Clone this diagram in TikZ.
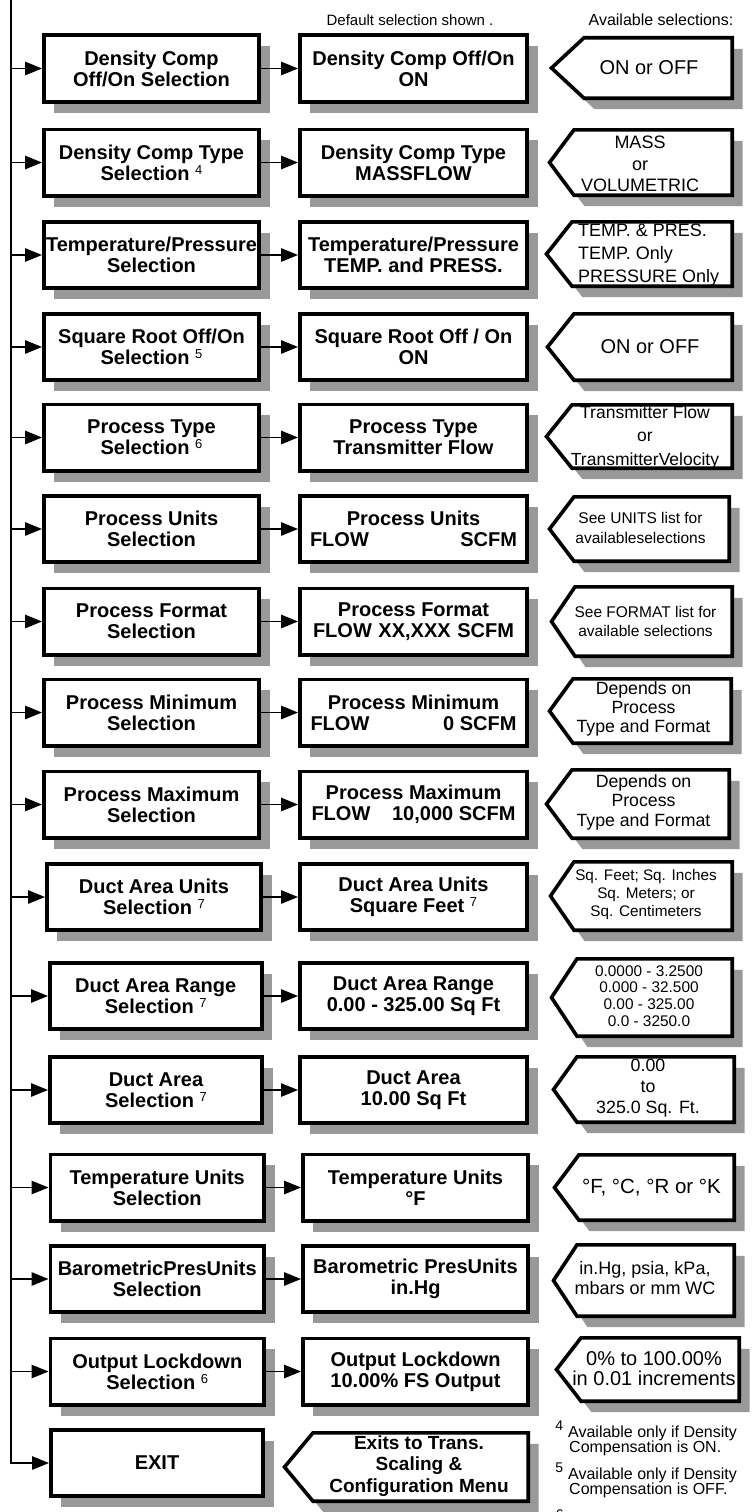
\documentclass[tikz,border=0pt]{standalone}
\usepackage{fontspec}
\setmainfont{Liberation Sans}
\usetikzlibrary{arrows.meta,shadows}
\definecolor{shd}{HTML}{999999}
\newcommand\fsz[2]{\fontsize{#1}{#2}\selectfont}
\newcommand\supn[1]{\raisebox{6pt}{\fsz{13}{13}\mdseries #1}}
\newcommand\fnmark[1]{\llap{\raisebox{7pt}{\fsz{14}{14}#1}\hspace{5pt}}}
% tip x, corner x, right x, top y, bottom y (outer edges)
\newcommand\pentagon[5]{%
  \filldraw[pent] (#1+2.5,{(#4+#5)/2}) -- (#2+1,#4+1.8) -- (#3-1.8,#4+1.8)
    -- (#3-1.8,#5-1.8) -- (#2+1,#5-1.8) -- cycle;}
\begin{document}
\begin{tikzpicture}[x=1pt,y=-1pt,
  shadowed/.style={drop shadow={shadow xshift=10.5pt,shadow yshift=-11pt,fill=shd,opacity=1}},
  selbox/.style={draw=black,line width=3.6pt,fill=white,inner sep=0pt,align=center,
    minimum height=66.4pt,font=\bfseries\fsz{20}{21},shadowed},
  pent/.style={draw=black,line width=3.6pt,fill=white,line join=miter,shadowed},
  avtext/.style={align=center,inner sep=0pt},
  conn/.style={line width=1.3pt,-{Triangle[length=17pt,width=13.5pt]}},
  hdr/.style={inner sep=0pt,anchor=base},
  fnline/.style={anchor=base west,inner sep=0pt,font=\fsz{16}{16}},
]
\useasboundingbox (0,0) rectangle (752,1512);

% headers
\node[hdr,font=\fsz{15}{15}] (h1) at (410,26) {Default selection shown .};
\node[hdr,font=\fsz{16}{16}] (h2) at (661,26) {Available selections:};

% column 1
\node[selbox,minimum width=215.4pt] (s1) at (151.5,68.5) {Density Comp\\Off/On Selection};
\node[selbox,minimum width=215.4pt] (s2) at (151.5,162.5) {Density Comp Type\\Selection \supn{4}};
\node[selbox,minimum width=215.4pt] (s3) at (151.5,255) {Temperature/Pressure\\Selection};
\node[selbox,minimum width=215.4pt] (s4) at (151.5,347) {Square Root Off/On\\Selection \supn{5}};
\node[selbox,minimum width=215.4pt] (s5) at (151.5,437.5) {Process Type\\Selection \supn{6}};
\node[selbox,minimum width=215.4pt] (s6) at (151.5,529) {Process Units\\Selection};
\node[selbox,minimum width=215.4pt] (s7) at (151.5,621.5) {Process Format\\Selection};
\node[selbox,minimum width=215.4pt] (s8) at (151.5,712.5) {Process Minimum\\Selection};
\node[selbox,minimum width=215.4pt] (s9) at (151.5,804.5) {Process Maximum\\Selection};
\node[selbox,minimum width=214.4pt] (s10) at (154,897) {Duct Area Units\\Selection \supn{7}};
\node[selbox,minimum width=211.9pt] (s11) at (155.75,996) {Duct Area Range\\Selection \supn{7}};
\node[selbox,minimum width=212.4pt] (s12) at (156,1090) {Duct Area\\Selection \supn{7}};
\node[selbox,minimum width=213.9pt] (s13) at (157.25,1187.5) {Temperature Units\\Selection};
\node[selbox,minimum width=213.9pt] (s14) at (157.25,1279) {BarometricPresUnits\\Selection};
\node[selbox,minimum width=213.9pt] (s15) at (157.25,1371.5) {Output Lockdown\\Selection \supn{6}};
\node[selbox,minimum width=212.4pt] (s16) at (157,1463) {EXIT};

% column 2
\node[selbox,minimum width=227.4pt] (d1) at (413.5,68.5) {Density Comp Off/On\\ON};
\node[selbox,minimum width=227.4pt] (d2) at (413.5,162.5) {Density Comp Type\\MASSFLOW};
\node[selbox,minimum width=227.4pt] (d3) at (413.5,255) {Temperature/Pressure\\TEMP. and PRESS.};
\node[selbox,minimum width=227.4pt] (d4) at (413.5,347) {Square Root Off / On\\ON};
\node[selbox,minimum width=227.4pt] (d5) at (413.5,437.5) {Process Type\\Transmitter Flow};
\node[selbox,minimum width=227.4pt] (d6) at (413.5,529) {Process Units\\\makebox[207pt]{FLOW\hfill SCFM}};
\node[selbox,minimum width=227.4pt] (d7) at (413.5,621.5) {Process Format\\\makebox[201pt]{FLOW\hfill XX,XXX\hfill SCFM}};
\node[selbox,minimum width=227.4pt] (d8) at (413.5,712.5) {Process Minimum\\\makebox[206pt]{FLOW\hfill 0 SCFM}};
\node[selbox,minimum width=227.4pt] (d9) at (413.5,804.5) {Process Maximum\\\makebox[204pt]{FLOW\hfill 10,000 SCFM}};
\node[selbox,minimum width=227.4pt] (d10) at (413.5,897) {Duct Area Units\\Square Feet \supn{7}};
\node[selbox,minimum width=227.4pt] (d11) at (413.5,996) {Duct Area Range\\0.00 - 325.00 Sq Ft};
\node[selbox,minimum width=227.4pt] (d12) at (413.5,1090) {Duct Area\\10.00 Sq Ft};
\node[selbox,minimum width=225.4pt] (d13) at (415.5,1187.5) {Temperature Units\\°F};
\node[selbox,minimum width=225.4pt] (d14) at (415.5,1279) {Barometric PresUnits\\in.Hg};
\node[selbox,minimum width=225.4pt] (d15) at (415.5,1371.5) {Output Lockdown\\10.00\% FS Output};
\pentagon{282}{312}{530}{1431}{1503}
\node[avtext,font=\bfseries\fsz{19}{21.5}] (d16) at (419,1466) {Exits to Trans.\\Scaling \&\\Configuration Menu};

% column 3
\pentagon{549}{583}{734}{36}{100}
\node[avtext,font=\fsz{20}{21}] (a1) at (649,68) {ON or OFF};
\pentagon{547}{573}{734}{128}{197}
\node[avtext,font=\fsz{18}{21.5}] (a2) at (640,164) {MASS\\or\\VOLUMETRIC};
\pentagon{544}{571}{734}{220}{288}
\node[avtext,align=left,anchor=west,font=\fsz{18}{23}] (a3) at (578,255) {TEMP. \& PRES.\\TEMP. Only\\PRESSURE Only};
\pentagon{545}{573}{734}{312}{382}
\node[avtext,font=\fsz{20}{21}] (a4) at (650,347) {ON or OFF};
\pentagon{544}{571}{734}{403}{470}
\node[avtext,font=\fsz{17.5}{23.5}] (a5) at (645,437) {Transmitter Flow\\or\\TransmitterVelocity};
\pentagon{547}{573}{731}{495}{563}
\node[avtext,font=\fsz{15.5}{20}] (a6) at (640.5,528) {See UNITS list for\\availableselections};
\pentagon{549}{574}{734}{585}{658}
\node[avtext,font=\fsz{15.5}{19}] (a7) at (645.5,621) {See FORMAT list for\\available selections};
\pentagon{547}{572}{733}{677}{745}
\node[avtext,font=\fsz{17.7}{19}] (a8) at (643.5,709) {Depends on\\Process\\Type and Format};
\pentagon{544}{571}{731}{768}{840}
\node[avtext,font=\fsz{17.7}{19.5}] (a9) at (643.5,802) {Depends on\\Process\\Type and Format};
\pentagon{548}{573}{734}{860}{932}
\node[avtext,font=\fsz{15.3}{18}] (a10) at (646,895) {Sq. Feet; Sq. Inches\\Sq. Meters; or\\Sq. Centimeters};
\pentagon{549}{576}{734}{957}{1038}
\node[avtext,font=\fsz{15.4}{16.8}] (a11) at (649,996) {0.0000 - 3.2500\\0.000 - 32.500\\0.00 - 325.00\\0.0 - 3250.0};
\pentagon{551}{576}{736}{1055}{1124}
\node[avtext,font=\fsz{17.8}{21}] (a12) at (648,1088) {0.00\\to\\325.0 Sq. Ft.};
\pentagon{552}{578}{736}{1153}{1222}
\node[avtext,font=\fsz{20.5}{21}] (a13) at (651.5,1187.5) {°F, °C, °R or °K};
\pentagon{551}{576}{736}{1243}{1318}
\node[avtext,font=\fsz{18}{20.5}] (a14) at (645,1278) {in.Hg, psia, kPa,\\mbars or mm WC};
\pentagon{554}{580}{741}{1336}{1403}
\node[avtext,font=\fsz{20}{20}] (a15) at (654,1369) {0\% to 100.00\%\\in 0.01 increments};

% connectors
\coordinate (spine) at (11,-2);
\draw[conn] (spine) |- (s16.west);
\foreach \i in {1,...,15} {\draw[conn] (spine |- s\i.west) -- (s\i.west);}
\foreach \i in {1,...,15} {\draw[conn] (s\i.east) -- (d\i.west);}

% footnotes
\node[fnline] (f4a) at (568,1437) {\fnmark{4}Available only if Density};
\node[fnline] (f4b) at (569,1452) {Compensation is ON.};
\node[fnline] (f5a) at (568,1479) {\fnmark{5}Available only if Density};
\node[fnline] (f5b) at (569,1494) {Compensation is OFF.};
\node[fnline] (f6) at (568,1526) {\fnmark{6}};
\end{tikzpicture}
\end{document}
